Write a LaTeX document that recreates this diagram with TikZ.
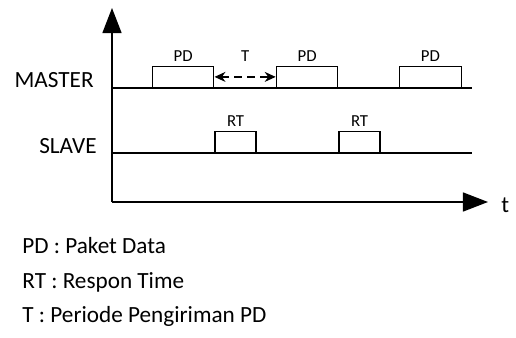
\documentclass[tikz,border=0pt]{standalone}
\usepackage{fontspec}
\setmainfont{Carlito}
\usetikzlibrary{arrows.meta}

\begin{document}
\begin{tikzpicture}[x=0.5pt, y=-0.5pt,
  bigtxt/.style={font=\fontsize{11.6}{13}\selectfont, inner sep=0},
  smalltxt/.style={font=\fontsize{8.4}{10}\selectfont, inner sep=2.2pt},
  pdbox/.style={draw, line width=0.6pt, minimum width=30.8pt, minimum height=10.5pt, inner sep=0, anchor=south west},
  rtbox/.style={pdbox, minimum width=20.5pt},
  axis/.style={line width=0.7pt, -{Triangle[length=12.5pt, width=9.5pt]}}]
\useasboundingbox (0,0) rectangle (516,338);
\coordinate (o) at (112,202);
\coordinate (ytop) at (112,8);
\coordinate (xend) at (488,202);
\draw[axis] (o)--(ytop);
\draw[axis] (o)--(xend);
\node[bigtxt, anchor=base west] (t) at (501,212) {t};
\coordinate (m0) at (112,88);
\coordinate (m1) at (472,88);
\coordinate (s0) at (112,153);
\coordinate (s1) at (472,153);
\draw[line width=0.6pt] (m0)--(m1);
\draw[line width=0.6pt] (s0)--(s1);
\node[bigtxt, anchor=base east] (master) at (94,87) {MASTER};
\node[bigtxt, anchor=base east] (slave) at (97,153) {SLAVE};
\foreach \n/\x in {1/151.7, 2/275.7, 3/399} {
 \node[pdbox, label={[smalltxt]above:PD}] (pd\n) at (\x,88) {};
}
\node[rtbox, label={[smalltxt]above:RT}] (rt1) at (pd1.east |- s0) {};
\node[rtbox, label={[smalltxt]above:RT}] (rt2) at (pd2.east |- s0) {};
\draw[line width=0.6pt, dash pattern=on 4pt off 2.5pt, {Stealth[length=5.5pt, width=5pt]}-{Stealth[length=5.5pt, width=5pt]}]
  (pd1.east) -- node[smalltxt, above=7.3pt, inner sep=0] (tlbl) {T} (pd2.west);
\node[bigtxt, anchor=base west] (leg1) at (22,253) {PD : Paket Data};
\node[bigtxt, anchor=base west] (leg2) at (22,288) {RT : Respon Time};
\node[bigtxt, anchor=base west] (leg3) at (22,322) {T : Periode Pengiriman PD};
\end{tikzpicture}
\end{document}
